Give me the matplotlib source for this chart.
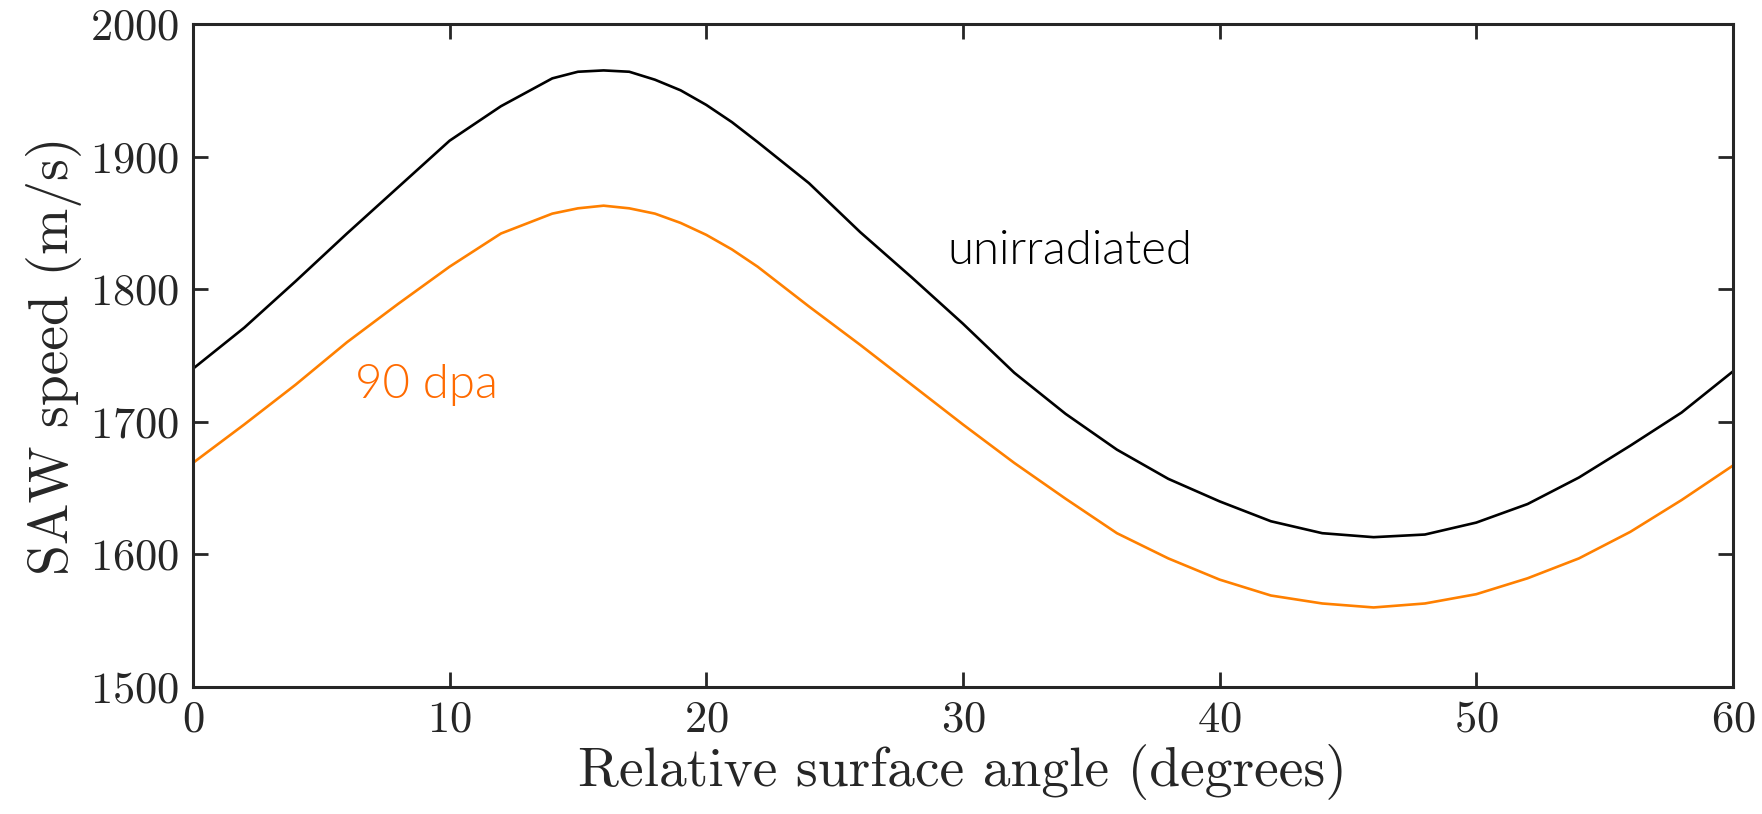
import numpy as np
import matplotlib
matplotlib.use("Agg")
import matplotlib.pyplot as plt

# relative surface angle (degrees)
angle = [0, 2, 4, 6, 8, 10, 12, 14, 15, 16, 17, 18, 19, 20, 21, 22, 24, 26, 28, 30,
         32, 34, 36, 38, 40, 42, 44, 46, 48, 50, 52, 54, 56, 58, 60]
# SAW speed (m/s)
unirradiated = [1740, 1771, 1806, 1842, 1877, 1912, 1938, 1959, 1964, 1965, 1964, 1958, 1950, 1939, 1926,
                1911, 1880, 1843, 1809, 1774, 1737, 1706, 1679, 1657, 1640, 1625, 1616, 1613, 1615, 1624,
                1638, 1658, 1682, 1707, 1738]
dpa90 = [1669, 1698, 1728, 1760, 1789, 1817, 1842, 1857, 1861, 1863, 1861, 1857, 1850, 1841, 1830,
         1817, 1787, 1758, 1728, 1698, 1669, 1642, 1616, 1597, 1581, 1569, 1563, 1560, 1563, 1570,
         1582, 1597, 1617, 1641, 1667]

dark = "#262626"
orange = "#FF8000"

plt.rcParams["font.family"] = "cmr10"
plt.rcParams["axes.formatter.use_mathtext"] = True
plt.rcParams["mathtext.fontset"] = "cm"

fig = plt.figure(figsize=(17.62, 8.14), dpi=100)
ax = fig.add_axes([0.1095, 0.156, 0.874, 0.8145])

ax.plot(angle, unirradiated, color="black", lw=1.9)
ax.plot(angle, dpa90, color=orange, lw=1.9)

ax.text(29.4, 1829, "unirradiated", family="Lato", fontweight=300,
        fontsize=34, color="black", va="center")
ax.text(6.3, 1728, "90 dpa", family="Lato", fontweight=300,
        fontsize=34, color="#FF6A00", va="center")

ax.set_xlim(0, 60)
ax.set_ylim(1500, 2000)
ax.set_xticks(np.arange(0, 61, 10))
ax.set_yticks(np.arange(1500, 2001, 100))
ax.tick_params(direction="in", length=11, width=2, top=True, right=True,
               labelsize=32, colors=dark, pad=10)
for s in ax.spines.values():
    s.set_linewidth(2.2)
    s.set_color(dark)

ax.set_xlabel("Relative surface angle (degrees)", fontsize=40, color=dark, labelpad=2)
ax.set_ylabel("SAW speed (m/s)", fontsize=40, color=dark, labelpad=6)

fig.savefig("out.png", dpi=100)
